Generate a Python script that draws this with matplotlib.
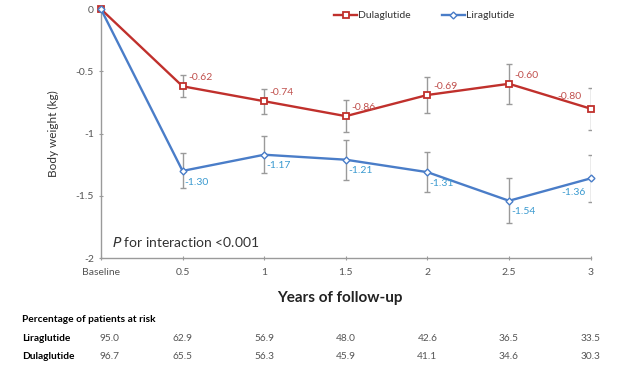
import matplotlib
matplotlib.use("Agg")
import matplotlib.pyplot as plt
import matplotlib.transforms as mtransforms

plt.rcParams['font.family'] = ['Lato', 'DejaVu Sans']

# data
years = [0, 0.5, 1, 1.5, 2, 2.5, 3]
xlabels = ['Baseline', '0.5', '1', '1.5', '2', '2.5', '3']
dula = [0, -0.62, -0.74, -0.86, -0.69, -0.60, -0.80]
dula_err = [0, 0.09, 0.10, 0.13, 0.145, 0.16, 0.17]
lira = [0, -1.30, -1.17, -1.21, -1.31, -1.54, -1.36]
lira_err = [0, 0.14, 0.15, 0.16, 0.16, 0.18, 0.19]
risk_lira = ['95.0', '62.9', '56.9', '48.0', '42.6', '36.5', '33.5']
risk_dula = ['96.7', '65.5', '56.3', '45.9', '41.1', '34.6', '30.3']

red = '#C0302C'
blue = '#4A7DC8'
red_txt = '#C0504D'
blue_txt = '#3A9AD0'
grey = '#9A9A9A'

fig = plt.figure(figsize=(6.27, 3.8), dpi=100)
ax = fig.add_axes([0.161, 0.321, 0.781, 0.655])

ax.errorbar(years[1:], dula[1:], yerr=dula_err[1:], fmt='none', ecolor=grey,
            elinewidth=1, capsize=2.5, capthick=1, zorder=1)
ax.errorbar(years[1:], lira[1:], yerr=lira_err[1:], fmt='none', ecolor=grey,
            elinewidth=1, capsize=2.5, capthick=1, zorder=1)

ax.plot(years, dula, color=red, lw=1.7, marker='s', ms=4.5, mfc='white',
        mec=red, mew=1.3, label='Dulaglutide', clip_on=False, zorder=3)
ax.plot(years, lira, color=blue, lw=1.7, marker='D', ms=3.5, mfc='white',
        mec=blue, mew=1.0, label='Liraglutide', clip_on=False, zorder=3)

# value labels
for i in range(1, len(years)):
    if i == 6:
        ax.annotate('%.2f' % dula[i], (years[i], dula[i]), xytext=(-15, 9),
                    textcoords='offset points', color=red_txt, fontsize=7.5,
                    ha='center', va='center')
        ax.annotate('%.2f' % lira[i], (years[i], lira[i]), xytext=(-12, -10),
                    textcoords='offset points', color=blue_txt, fontsize=7.5,
                    ha='center', va='center')
    else:
        ax.annotate('%.2f' % dula[i], (years[i], dula[i]), xytext=(4, 6),
                    textcoords='offset points', color=red_txt, fontsize=7.5,
                    ha='left', va='center')
        ax.annotate('%.2f' % lira[i], (years[i], lira[i]), xytext=(1.5, -8),
                    textcoords='offset points', color=blue_txt, fontsize=7.5,
                    ha='left', va='center')

ax.text(0.07, -1.87, r'$\mathit{P}$ for interaction <0.001', fontsize=10,
        color='#333333', va='center', ha='left')

ax.set_xlim(0, 3)
ax.set_ylim(-2, 0)
ax.set_xticks(years)
ax.set_xticklabels(xlabels)
ax.set_yticks([0, -0.5, -1, -1.5, -2])
ax.set_yticklabels(['0', '-0.5', '-1', '-1.5', '-2'])
ax.tick_params(axis='both', labelsize=7.5, colors='#555555', length=3,
               direction='inout', color=grey)
ax.tick_params(axis='x', pad=6)
for s in ['top', 'right']:
    ax.spines[s].set_visible(False)
for s in ['left', 'bottom']:
    ax.spines[s].set_color(grey)
    ax.spines[s].set_linewidth(1)

ax.set_ylabel('Body weight (kg)', fontsize=8.5, color='#333333', labelpad=12)
fig.text(0.542, 0.215, 'Years of follow-up', fontsize=11, fontweight='bold',
         ha='center', va='center', color='#222222')

leg = ax.legend(loc='upper center', bbox_to_anchor=(0.66, 1.03), ncol=2,
                frameon=False, fontsize=7.5, handlelength=2.2,
                handletextpad=0.1, columnspacing=3)
for t in leg.get_texts():
    t.set_color('#333333')

# risk table
trans = mtransforms.blended_transform_factory(ax.transData, fig.transFigure)
fig.text(0.035, 0.16, 'Percentage of patients at risk', fontsize=7.3,
         fontweight='bold', ha='left', va='center')
fig.text(0.035, 0.11, 'Liraglutide', fontsize=7.3, fontweight='bold',
         ha='left', va='center')
fig.text(0.035, 0.063, 'Dulaglutide', fontsize=7.3, fontweight='bold',
         ha='left', va='center')
for i in range(len(years)):
    xoff = 0.05 if i == 0 else 0
    ax.text(years[i] + xoff, 0.11, risk_lira[i], transform=trans,
            fontsize=7.3, color='#555555', ha='center', va='center')
    ax.text(years[i] + xoff, 0.063, risk_dula[i], transform=trans,
            fontsize=7.3, color='#555555', ha='center', va='center')

fig.savefig('out.png', dpi=100)
